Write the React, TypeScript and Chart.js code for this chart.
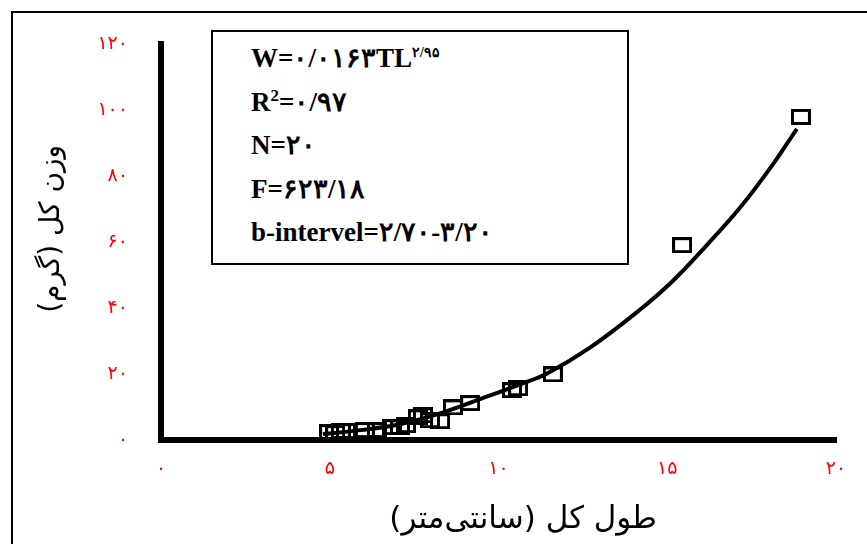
import React, { useEffect, useRef } from "react";
import { Chart, registerables } from "chart.js";

Chart.register(...registerables);

// Observed fish: total length (cm) and total weight (g)
const lengthCm = [4.98, 5.16, 5.33, 5.48, 6.04, 6.4, 6.84, 7.08, 7.26, 7.61, 7.76, 7.97, 8.27, 8.65, 9.16, 10.4, 10.58, 11.61, 15.44, 18.96];
const weightG = [2.4, 2.1, 2.7, 2.7, 3.0, 3.0, 3.9, 3.9, 4.5, 6.9, 7.5, 6.0, 5.7, 9.9, 11.2, 15.1, 15.7, 19.9, 59.1, 98.0];

// Fitted power curve
const fitLength = [4.8, 5.9, 7.08, 8.27, 9.45, 10.64, 11.44, 12.71, 14.19, 15.17, 16.18, 17.16, 18.13, 18.84];
const fitWeight = [1.8, 3.0, 4.8, 8.1, 12.4, 16.9, 20.2, 28.0, 39.5, 48.3, 59.2, 70.5, 83.6, 94.4];

const xTickValues = [0, 5, 10, 15, 20];
const yTickValues = [0, 20, 40, 60, 80, 100, 120];

const xTitle = "     \u200Fطول کل (سانتی\u200Cمتر)\u200F";
const yTitle = "   \u200Fوزن کل (گرم)\u200F";

const infoLines = [
  { main: "W=۰/۰۱۶۳TL", sup: "۲/۹۵", tail: "" },
  { main: "R", sup: "2", tail: "=۰/۹۷" },
  { main: "N=۲۰", sup: "", tail: "" },
  { main: "F=۶۲۳/۱۸", sup: "", tail: "" },
  { main: "b-intervel=۲/۷۰-۳/۲۰", sup: "", tail: "" },
];

const faDigits = "۰۱۲۳۴۵۶۷۸۹";
const toFa = (v: number | string) => String(v).replace(/\d/g, (d) => faDigits[Number(d)]);

function makeMarker(): HTMLCanvasElement {
  const c = document.createElement("canvas");
  c.width = 20;
  c.height = 16;
  const g = c.getContext("2d")!;
  g.strokeStyle = "#000";
  g.lineWidth = 3;
  g.strokeRect(1.5, 1.5, 17, 13);
  return c;
}

export default function App() {
  const ref = useRef<HTMLCanvasElement | null>(null);

  useEffect(() => {
    if (!ref.current) return;
    const marker = makeMarker();
    const chart = new Chart(ref.current, {
      type: "scatter",
      data: {
        datasets: [
          {
            label: "observed",
            data: lengthCm.map((x, i) => ({ x, y: weightG[i] })),
            pointStyle: marker as any,
            pointRadius: 8,
            showLine: false,
            order: 1,
          },
          {
            label: "fit",
            data: fitLength.map((x, i) => ({ x, y: fitWeight[i] })),
            showLine: true,
            borderColor: "#000",
            borderWidth: 4,
            pointRadius: 0,
            tension: 0.4,
            order: 2,
          } as any,
        ],
      },
      options: {
        animation: false,
        responsive: false,
        events: [],
        layout: { padding: { left: 0, right: 31, top: 42, bottom: 0 } },
        plugins: { legend: { display: false }, tooltip: { enabled: false } },
        scales: {
          x: {
            type: "linear",
            min: 0,
            max: 20,
            afterBuildTicks: (s: any) => {
              s.ticks = xTickValues.map((value) => ({ value }));
            },
            afterFit: (s: any) => {
              s.height = 104;
            },
            ticks: {
              color: "#ff0000",
              font: { family: "DejaVu Sans", size: 19 },
              padding: 18,
              maxRotation: 0,
              autoSkip: false,
              callback: (v: any) => toFa(v),
            },
            grid: { display: false, drawTicks: false },
            border: { color: "#000", width: 6 },
            title: {
              display: true,
              text: xTitle,
              color: "#000",
              font: { family: "DejaVu Sans", size: 31 },
              padding: { top: 0, bottom: 5 },
            },
          },
          y: {
            type: "linear",
            min: 0,
            max: 120,
            afterBuildTicks: (s: any) => {
              s.ticks = yTickValues.map((value) => ({ value }));
            },
            afterFit: (s: any) => {
              s.width = 161;
            },
            ticks: {
              color: "#ff0000",
              font: { family: "DejaVu Sans", size: 19 },
              padding: 33,
              autoSkip: false,
              callback: (v: any) => toFa(v),
            },
            grid: { display: false, drawTicks: false },
            border: { color: "#000", width: 6 },
            title: {
              display: true,
              text: yTitle,
              color: "#000",
              font: { family: "DejaVu Sans", size: 28 },
              padding: { top: 35, bottom: 0 },
            },
          },
        },
      } as any,
    });
    return () => chart.destroy();
  }, []);

  return (
    <div
      style={{
        position: "fixed",
        left: 0,
        top: 0,
        width: 867,
        height: 544,
        overflow: "hidden",
        background: "#fff",
      }}
    >
      <div
        style={{
          position: "absolute",
          left: 11,
          top: 11,
          width: 1000,
          height: 1000,
          borderLeft: "2px solid #000",
          borderTop: "2px solid #000",
        }}
      />
      <canvas
        ref={ref}
        width={867}
        height={544}
        style={{ position: "absolute", left: 0, top: 0, display: "block" }}
      />
      <div
        style={{
          position: "absolute",
          left: 211,
          top: 30,
          width: 418,
          height: 235,
          boxSizing: "border-box",
          border: "2px solid #000",
          background: "#fff",
          paddingLeft: 38,
          paddingTop: 5,
          fontFamily: "'Liberation Serif', 'DejaVu Serif', serif",
          fontWeight: "bold",
          fontSize: 27,
          lineHeight: "43.5px",
          color: "#000",
          direction: "ltr",
        }}
      >
        {infoLines.map((l, i) => (
          <div key={i} style={{ whiteSpace: "nowrap" }}>
            {l.main}
            {l.sup ? (
              <sup style={{ fontSize: l.sup === "2" ? 17 : 14, lineHeight: 0, verticalAlign: "super" }}>{l.sup}</sup>
            ) : null}
            {l.tail}
          </div>
        ))}
      </div>
    </div>
  );
}
